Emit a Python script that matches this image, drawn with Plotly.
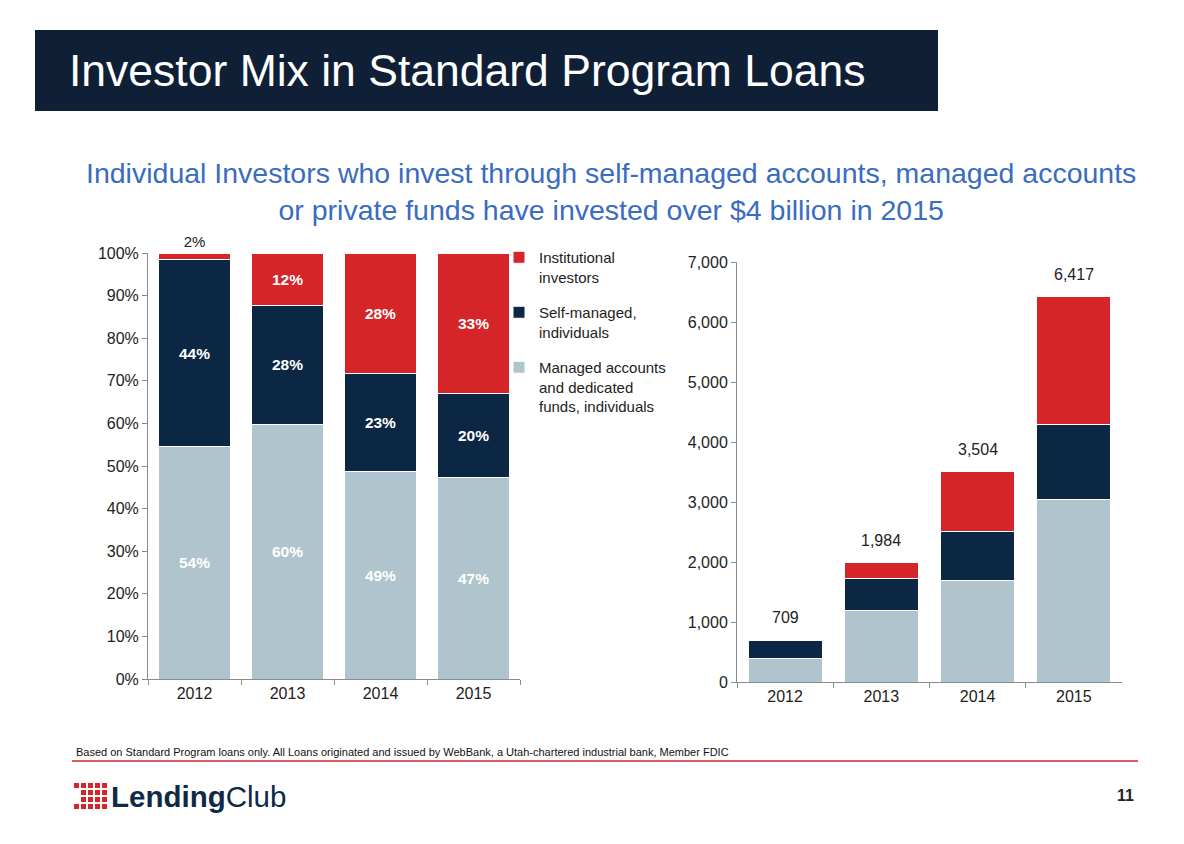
import plotly.graph_objects as go

years = ["2012", "2013", "2014", "2015"]

# Left chart: share of investment (%)
pct_managed = [54.5, 59.8, 48.7, 47.3]
pct_self = [44.0, 27.9, 22.9, 19.8]
pct_inst = [1.5, 12.3, 28.4, 32.9]
lbl_managed = ["54%", "60%", "49%", "47%"]
lbl_self = ["44%", "28%", "23%", "20%"]
lbl_inst = ["2%", "12%", "28%", "33%"]

# Right chart: amounts ($ millions)
amt_managed = [386, 1185, 1700, 3035]
amt_self = [312, 545, 805, 1265]
amt_inst = [11, 254, 999, 2117]
totals = [709, 1984, 3504, 6417]
total_labels = ["709", "1,984", "3,504", "6,417"]

series_names = ["Managed accounts<br>and dedicated<br>funds, individuals",
                "Self-managed,<br>individuals",
                "Institutional<br>investors"]

C_LIGHT = "#afc4cc"
C_NAVY = "#0b2744"
C_RED = "#d52528"
FONT = "Liberation Sans, Arial, Helvetica, sans-serif"
TXT = "#222222"
AX = "#8c8c8c"

# page is shown with an 8px body margin; lay out in reference pixel coordinates
OFF = 8
W, H = 1184 - OFF, 844 - OFF


def px(x):
    return (x - OFF) / W


def py(y):
    return 1 - (y - OFF) / H


fig = go.Figure()

left_sets = [(pct_managed, lbl_managed, C_LIGHT), (pct_self, lbl_self, C_NAVY), (pct_inst, lbl_inst, C_RED)]
for i, (vals, lbls, col) in enumerate(left_sets):
    pos = "inside"
    if i == 2:
        pos = ["outside", "inside", "inside", "inside"]
    fig.add_trace(go.Bar(
        x=years, y=vals, name=series_names[i], legendgroup="g%d" % i, legendrank=3 - i,
        marker=dict(color=col, line=dict(color="white", width=1)),
        text=["<b>%s</b>" % t if (i < 2 or k > 0) else t for k, t in enumerate(lbls)],
        textposition=pos, insidetextanchor="middle",
        insidetextfont=dict(color="white", size=15.5, family=FONT),
        outsidetextfont=dict(color=TXT, size=15, family=FONT),
        textangle=0, cliponaxis=False, xaxis="x", yaxis="y", showlegend=True,
        hoverinfo="skip", width=0.77,
    ))

right_sets = [(amt_managed, C_LIGHT), (amt_self, C_NAVY), (amt_inst, C_RED)]
for i, (vals, col) in enumerate(right_sets):
    fig.add_trace(go.Bar(
        x=years, y=vals, name=series_names[i], legendgroup="g%d" % i,
        marker=dict(color=col, line=dict(color="white", width=1)),
        xaxis="x2", yaxis="y2", showlegend=False, hoverinfo="skip", width=0.77,
    ))

annotations = []
for k, (tot, lab) in enumerate(zip(totals, total_labels)):
    annotations.append(dict(x=k, y=tot, xref="x2", yref="y2", text=lab, showarrow=False,
                            yshift=22, font=dict(size=16, color=TXT, family=FONT)))

# Header title
annotations.append(dict(x=px(67), y=py(70), xref="paper", yref="paper", xanchor="left", yanchor="middle",
                        text="Investor Mix in Standard Program Loans", showarrow=False,
                        font=dict(size=44.5, color="white", family=FONT)))
# Subtitle
annotations.append(dict(x=px(611), y=py(191), xref="paper", yref="paper", xanchor="center", yanchor="middle",
                        text="Individual Investors who invest through self-managed accounts, managed accounts<br>or private funds have invested over $4 billion in 2015",
                        showarrow=False, align="center",
                        font=dict(size=28.5, color="#3a6cbf", family=FONT)))
# Footer
annotations.append(dict(x=px(74), y=py(752), xref="paper", yref="paper", xanchor="left", yanchor="middle",
                        text="Based on Standard Program loans only. All Loans originated and issued by WebBank, a Utah-chartered industrial bank, Member FDIC",
                        showarrow=False, font=dict(size=11, color="#111111", family=FONT)))
annotations.append(dict(x=px(109), y=py(796), xref="paper", yref="paper", xanchor="left", yanchor="middle",
                        text="<b>Lending</b>Club", showarrow=False,
                        font=dict(size=29.5, color="#0e2a47", family=FONT)))
annotations.append(dict(x=px(1136), y=py(795), xref="paper", yref="paper", xanchor="right", yanchor="middle",
                        text="<b>11</b>", showarrow=False, font=dict(size=16, color="#222222", family=FONT)))

shapes = [
    dict(type="rect", xref="paper", yref="paper", x0=px(35), x1=px(938), y0=py(111), y1=py(30),
         fillcolor="#0e1f36", line=dict(width=0), layer="below"),
    dict(type="line", xref="paper", yref="paper", x0=px(72), x1=px(1138), y0=py(761), y1=py(761),
         line=dict(color="#d52528", width=1.5)),
]
# Logo grid
xs = [74, 81, 88, 95, 102]
ys = [783, 790, 797, 804]
for ci, gx in enumerate(xs):
    for ri, gy in enumerate(ys):
        if ci == 0 and ri in (1, 2):
            continue
        shapes.append(dict(type="rect", xref="paper", yref="paper",
                           x0=px(gx), x1=px(gx + 5), y0=py(gy + 5), y1=py(gy),
                           fillcolor="#d52528", line=dict(width=0)))

axis_common = dict(showgrid=False, zeroline=False, showline=True, linecolor=AX, linewidth=1,
                   ticks="outside", tickcolor=AX, ticklen=5, automargin=False,
                   tickfont=dict(size=16, color=TXT, family=FONT))

fig.update_layout(
    width=W, height=H, margin=dict(l=0, r=0, t=0, b=0, autoexpand=False),
    paper_bgcolor="white", plot_bgcolor="white",
    barmode="stack", bargap=0.23,
    font=dict(family=FONT, color=TXT),
    xaxis=dict(domain=[px(148), px(520)], anchor="y", type="category", tickson="boundaries",
               range=[-0.5, 3.5], **axis_common),
    yaxis=dict(domain=[py(679), py(253)], anchor="x", range=[0, 100], dtick=10,
               ticksuffix="%", **axis_common),
    xaxis2=dict(domain=[px(737), px(1122)], anchor="y2", type="category", tickson="boundaries",
                range=[-0.5, 3.5], **axis_common),
    yaxis2=dict(domain=[py(682), py(262)], anchor="x2", range=[0, 7000], dtick=1000,
                tickformat=",d", **axis_common),
    legend=dict(x=px(499), y=py(241), xanchor="left", yanchor="top", traceorder="grouped",
                valign="top", font=dict(size=15, color=TXT, family=FONT), tracegroupgap=13,
                itemwidth=30, bgcolor="rgba(0,0,0,0)"),
    annotations=annotations, shapes=shapes,
)

fig.write_html("out.html")
